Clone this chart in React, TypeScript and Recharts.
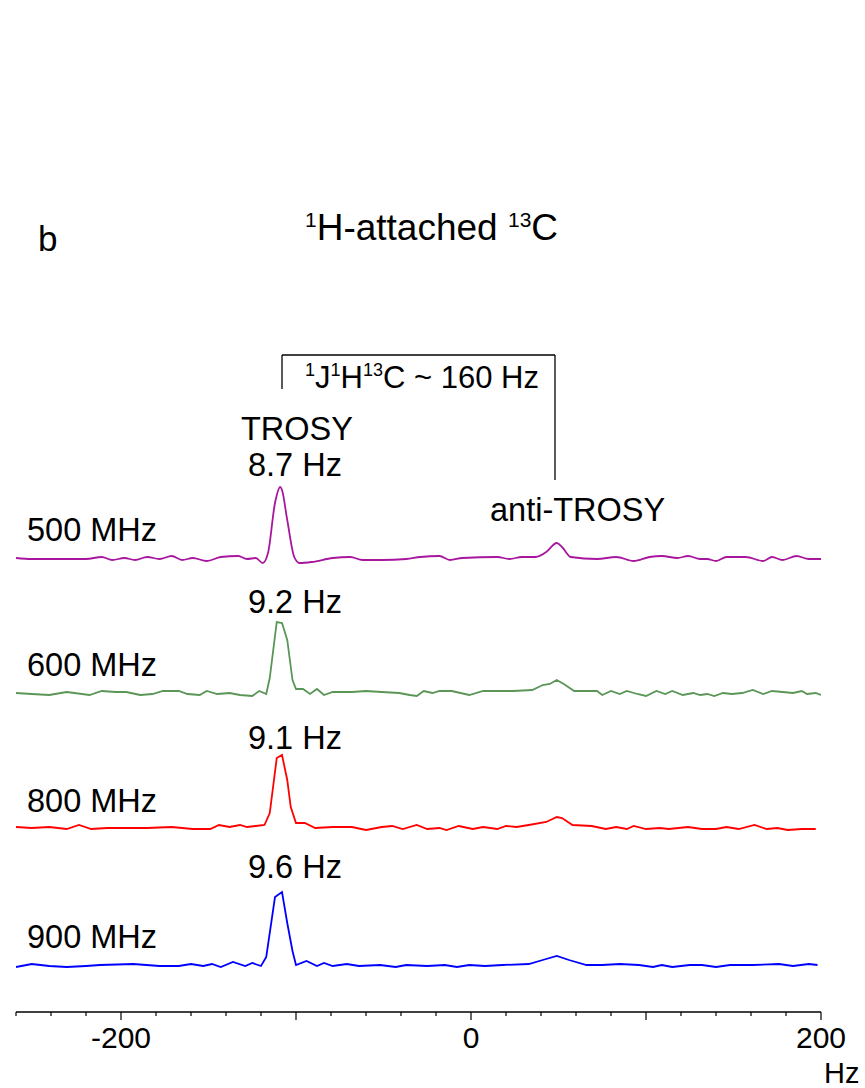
import { Line, LineChart, ReferenceLine, XAxis, YAxis } from "recharts"

// spectra: frequency offset (Hz) and intensity relative to each trace's baseline
const fields = ["500 MHz", "600 MHz", "800 MHz", "900 MHz"]
const linewidths = ["8.7 Hz", "9.2 Hz", "9.1 Hz", "9.6 Hz"]
const colors = ["#a8169e", "#5a9656", "#ff0000", "#0000ff"]
const offsets = [453, 319, 184, 47]

const hz500 = [-260, -251, -233, -220, -211, -205, -198, -192, -185, -178, -171, -165, -159, -151, -143, -133, -128, -123, -119, -116, -112, -109, -108, -105, -101, -98, -91, -79, -69, -62, -51, -37, -29, -18, -12, -5, 15, 22, 29, 37, 43, 49, 52, 57, 72, 83, 93, 102, 109, 118, 124, 131, 135, 140, 146, 157, 167, 172, 178, 186, 193, 200]
const int500 = [1, 0, 0, 0, 2, -1, 1, -1, 2, 0, 3, -1, 1, -2, 2, 3, 0, 1, -4, 6, 56, 72, 69, 39, 2, -4, -3, 1, 2, -1, -1, 0, 2, 3, -1, 1, 2, 0, 2, 2, 7, 16, 12, 2, 0, 2, -2, 2, 3, 1, 3, 0, 0, -2, 2, 2, -2, 2, -1, 3, 0, 0]

const hz600 = [-260, -251, -241, -231, -218, -211, -203, -197, -189, -182, -176, -167, -162, -155, -151, -145, -138, -132, -125, -121, -117, -115, -111, -108, -105, -102, -100, -96, -92, -88, -84, -79, -68, -60, -51, -41, -35, -31, -27, -22, -18, -11, -1, 7, 15, 24, 35, 41, 45, 49, 53, 59, 68, 72, 75, 80, 85, 89, 95, 100, 106, 111, 115, 121, 127, 131, 135, 139, 144, 149, 155, 161, 167, 172, 178, 184, 189, 192, 197, 200]
const int600 = [0, -1, -2, 1, -2, 2, 1, 1, -2, -1, 2, 2, -1, -2, 2, -1, 0, -2, -3, 2, -1, 15, 71, 70, 53, 13, 4, 4, -1, 4, -2, 1, 1, 2, 1, 0, -2, -3, 2, 0, 2, 2, -2, 2, 2, 2, 3, 8, 9, 13, 9, 2, 2, 2, -2, 2, -1, 2, -1, -3, 2, -1, 2, -2, 0, -2, -1, -3, 0, -1, 0, 3, -1, 2, 1, 0, 2, -1, 0, -2]

const hz800 = [-260, -251, -241, -231, -224, -217, -208, -197, -185, -171, -159, -149, -144, -138, -132, -128, -123, -118, -115, -111, -108, -105, -103, -100, -95, -89, -79, -68, -60, -51, -45, -39, -31, -25, -18, -14, -7, 1, 7, 15, 20, 26, 33, 43, 49, 52, 58, 69, 77, 83, 89, 93, 100, 108, 113, 124, 132, 140, 146, 153, 162, 169, 175, 181, 189, 197]
const int800 = [1, 0, 1, -1, 3, -1, 0, 0, 0, 1, -1, -1, 3, 1, 3, 1, 2, 3, 15, 70, 73, 48, 21, 5, 5, 0, 1, 1, -2, 1, 2, -1, 3, -1, 0, -2, 2, -1, 1, -1, 2, 1, 3, 6, 11, 10, 3, 2, -1, 1, -1, 2, -1, 0, -1, 1, -1, -1, 1, -1, 3, -1, 0, -2, -1, -1]

const hz900 = [-260, -251, -241, -231, -220, -212, -193, -178, -167, -160, -153, -148, -143, -136, -129, -125, -120, -117, -112, -108, -105, -102, -100, -94, -88, -84, -79, -71, -64, -52, -43, -37, -25, -15, -8, -1, 8, 18, 33, 41, 49, 56, 66, 75, 85, 96, 104, 109, 115, 125, 132, 140, 148, 161, 176, 184, 193, 198]
const int900 = [-2, 1, -1, -2, -1, 0, 1, -1, -1, 1, -1, 1, -2, 3, -1, 2, -1, 8, 68, 73, 42, 14, 0, 4, -1, 2, -1, 1, -1, 0, -2, 0, -1, 0, -2, 0, -1, 0, 1, 5, 9, 5, 0, 0, 1, 0, -2, 0, -2, 0, 0, -2, 0, 0, 1, -1, 1, 0]

const xTicks = [-260, -240, -220, -200, -180, -160, -140, -120, -100, -80, -60, -40, -20, 0, 20, 40, 60, 80, 100, 120, 140, 160, 180, 200]
const xLabels = [-200, 0, 200]

// J-coupling bracket between TROSY and anti-TROSY
const trosyHz = -108
const antiHz = 48
const bracketTop = 657
const bracketLeftEnd = 623
const bracketRightEnd = 532

const hzSets = [hz500, hz600, hz800, hz900]
const intSets = [int500, int600, int800, int900]
const spectra = hzSets.map((hz, s) => hz.map((h, i) => ({ hz: h, y: offsets[s] + intSets[s][i] })))

const font = "'Liberation Sans', Arial, Helvetica, sans-serif"

const AxisTick = (props: any) => {
  const { x, y, payload } = props
  const v = payload.value
  const major = v % 100 === 0
  return (
    <g>
      <line x1={x} x2={x} y1={y} y2={y + (major ? 8 : 4)} stroke="#000" strokeWidth={1.2} />
      {xLabels.includes(v) && (
        <text x={x} y={y + 36} textAnchor="middle" fontSize={30} fontFamily={font} fill="#000">
          {v}
        </text>
      )}
    </g>
  )
}

const fieldY = [541, 676, 812, 948]
const widthY = [476, 613, 749, 878]

export default function App() {
  return (
    <div style={{ position: "absolute", left: 0, top: 0, width: 865, height: 1088, background: "#fff" }}>
      <LineChart width={865} height={1088} margin={{ top: 312, right: 44, bottom: 0, left: 16 }}>
        <XAxis
          dataKey="hz"
          type="number"
          domain={[-260, 200]}
          ticks={xTicks}
          interval={0}
          height={76}
          tickSize={0}
          tickMargin={0}
          tickLine={false}
          tick={<AxisTick />}
          axisLine={{ stroke: "#000", strokeWidth: 1.5 }}
          allowDataOverflow
        />
        <YAxis type="number" domain={[0, 700]} hide />
        {spectra.map((d, s) => (
          <Line
            key={fields[s]}
            data={d}
            dataKey="y"
            type={s === 0 ? "monotone" : "linear"}
            stroke={colors[s]}
            strokeWidth={1.8}
            dot={false}
            isAnimationActive={false}
          />
        ))}
        <ReferenceLine segment={[{ x: trosyHz, y: bracketLeftEnd }, { x: trosyHz, y: bracketTop }]} stroke="#000" strokeWidth={1.3} />
        <ReferenceLine segment={[{ x: trosyHz, y: bracketTop }, { x: antiHz, y: bracketTop }]} stroke="#000" strokeWidth={1.3} />
        <ReferenceLine segment={[{ x: antiHz, y: bracketTop }, { x: antiHz, y: bracketRightEnd }]} stroke="#000" strokeWidth={1.3} />
      </LineChart>
      <svg width={865} height={1088} style={{ position: "absolute", left: 0, top: 0, pointerEvents: "none" }} fontFamily={font} fill="#000">
        <text x={38} y={251} fontSize={35}>b</text>
        <text x={305} y={240} fontSize={37}>
          <tspan fontSize={21} dy={-13}>1</tspan>
          <tspan dy={13}>H-attached </tspan>
          <tspan fontSize={21} dy={-13}>13</tspan>
          <tspan dy={13}>C</tspan>
        </text>
        <text x={305} y={388} fontSize={31}>
          <tspan fontSize={18} dy={-12}>1</tspan>
          <tspan dy={12}>J</tspan>
          <tspan fontSize={18} dy={-12}>1</tspan>
          <tspan dy={12}>H</tspan>
          <tspan fontSize={18} dy={-12}>13</tspan>
          <tspan dy={12}>C ~ 160 Hz</tspan>
        </text>
        <text x={241} y={440} fontSize={32.5}>TROSY</text>
        <text x={490} y={521} fontSize={32.5}>anti-TROSY</text>
        {fields.map((f, i) => (
          <text key={f} x={27} y={fieldY[i]} fontSize={32.5}>{f}</text>
        ))}
        {linewidths.map((w, i) => (
          <text key={w} x={248} y={widthY[i]} fontSize={32.5}>{w}</text>
        ))}
        <text x={824} y={1083} fontSize={29}>Hz</text>
      </svg>
    </div>
  )
}
